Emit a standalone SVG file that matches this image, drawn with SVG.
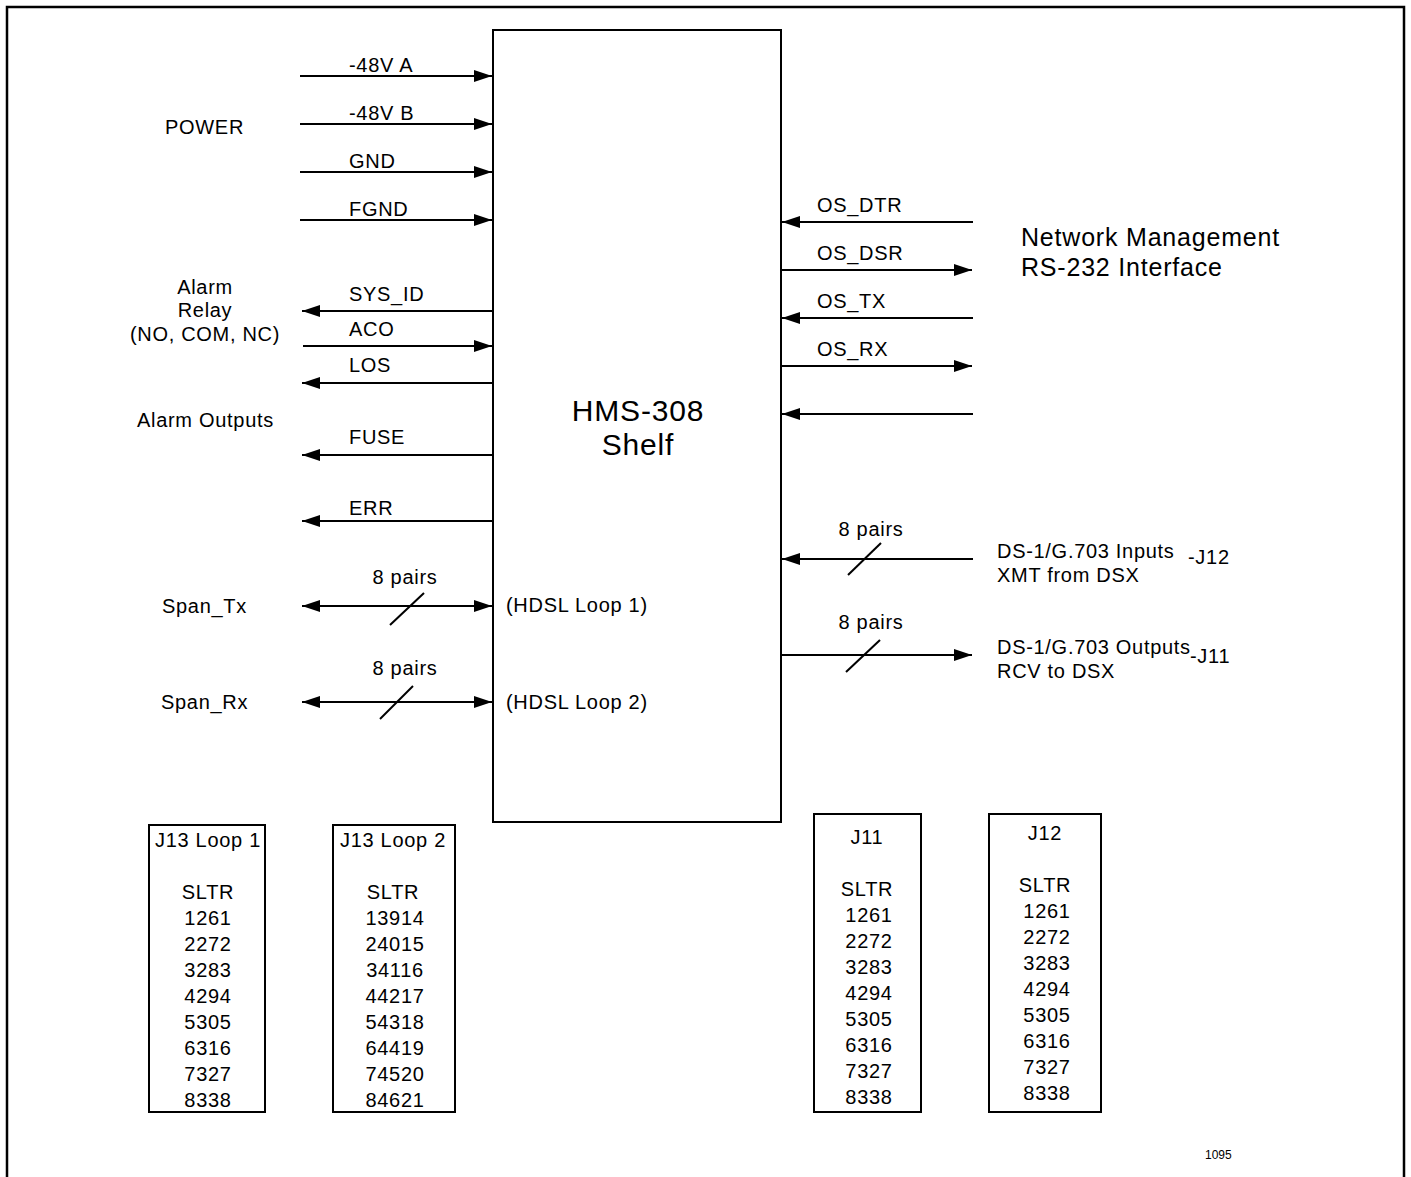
<svg xmlns="http://www.w3.org/2000/svg" width="1411" height="1177" viewBox="0 0 1411 1177">
<style>
text{font-family:"Liberation Sans",Arial,sans-serif;fill:#000}
.l{font-size:20px;letter-spacing:0.7px}
.t{font-size:20px;letter-spacing:0.7px;text-anchor:middle}
.c{stroke:#000;stroke-width:2;fill:none}
.b{stroke:#000;stroke-width:2;fill:#fff}
</style>
<defs>
<marker id="ah" viewBox="0 0 18 12" refX="18" refY="6" markerWidth="18" markerHeight="12" markerUnits="userSpaceOnUse" orient="auto-start-reverse">
<path d="M0,0 L18,6 L0,12 Z" fill="#000"/>
</marker>
</defs>
<rect width="1411" height="1177" fill="#fff"/>
<path d="M7,1177 V7 H1404 V1177" fill="none" stroke="#000" stroke-width="2.5"/>

<g id="shelf">
<rect x="493" y="30" width="288" height="792" class="b"/>
<text x="638" y="421" style="font-size:30px;letter-spacing:0.8px;text-anchor:middle">HMS-308</text>
<text x="638" y="455" style="font-size:30px;letter-spacing:0.8px;text-anchor:middle">Shelf</text>
</g>

<g id="connectors">
<line x1="300" y1="76" x2="492" y2="76" class="c" marker-end="url(#ah)"/>
<line x1="300" y1="124" x2="492" y2="124" class="c" marker-end="url(#ah)"/>
<line x1="300" y1="172" x2="492" y2="172" class="c" marker-end="url(#ah)"/>
<line x1="300" y1="220" x2="492" y2="220" class="c" marker-end="url(#ah)"/>
<line x1="493" y1="311" x2="302" y2="311" class="c" marker-end="url(#ah)"/>
<line x1="303" y1="346" x2="492" y2="346" class="c" marker-end="url(#ah)"/>
<line x1="493" y1="383" x2="302" y2="383" class="c" marker-end="url(#ah)"/>
<line x1="493" y1="455" x2="302" y2="455" class="c" marker-end="url(#ah)"/>
<line x1="493" y1="521" x2="302" y2="521" class="c" marker-end="url(#ah)"/>
<line x1="302" y1="606" x2="492" y2="606" class="c" marker-start="url(#ah)" marker-end="url(#ah)"/>
<line x1="390" y1="625" x2="424" y2="593" class="c"/>
<line x1="302" y1="702" x2="492" y2="702" class="c" marker-start="url(#ah)" marker-end="url(#ah)"/>
<line x1="380" y1="719" x2="413" y2="686" class="c"/>
<line x1="973" y1="222" x2="782" y2="222" class="c" marker-end="url(#ah)"/>
<line x1="782" y1="270" x2="972" y2="270" class="c" marker-end="url(#ah)"/>
<line x1="973" y1="318" x2="782" y2="318" class="c" marker-end="url(#ah)"/>
<line x1="782" y1="366" x2="972" y2="366" class="c" marker-end="url(#ah)"/>
<line x1="973" y1="414" x2="782" y2="414" class="c" marker-end="url(#ah)"/>
<line x1="973" y1="559" x2="782" y2="559" class="c" marker-end="url(#ah)"/>
<line x1="848" y1="575" x2="881" y2="543" class="c"/>
<line x1="782" y1="655" x2="972" y2="655" class="c" marker-end="url(#ah)"/>
<line x1="846" y1="672" x2="880" y2="640" class="c"/>
</g>

<g id="labels">
<text x="349" y="72" class="l">-48V A</text>
<text x="349" y="120" class="l">-48V B</text>
<text x="349" y="168" class="l">GND</text>
<text x="349" y="216" class="l">FGND</text>
<text x="349" y="301" class="l">SYS_ID</text>
<text x="349" y="336" class="l">ACO</text>
<text x="349" y="372" class="l">LOS</text>
<text x="349" y="444" class="l">FUSE</text>
<text x="349" y="515" class="l">ERR</text>
<text x="405" y="584" class="t">8 pairs</text>
<text x="405" y="675" class="t">8 pairs</text>
<text x="506" y="612" class="l">(HDSL Loop 1)</text>
<text x="506" y="709" class="l">(HDSL Loop 2)</text>
<text x="817" y="212" class="l">OS_DTR</text>
<text x="817" y="260" class="l">OS_DSR</text>
<text x="817" y="308" class="l">OS_TX</text>
<text x="817" y="356" class="l">OS_RX</text>
<text x="871" y="536" class="t">8 pairs</text>
<text x="871" y="629" class="t">8 pairs</text>
</g>

<g id="power">
<text x="165" y="134" class="l">POWER</text>
</g>
<g id="alarm-relay">
<text x="205" y="294" class="t">Alarm</text>
<text x="205" y="317" class="t">Relay</text>
<text x="205" y="341" class="t">(NO, COM, NC)</text>
</g>
<g id="alarm-outputs">
<text x="137" y="427" class="l">Alarm Outputs</text>
</g>
<g id="span-tx"><text x="162" y="613" class="l">Span_Tx</text></g>
<g id="span-rx"><text x="161" y="709" class="l">Span_Rx</text></g>

<g id="netmgmt">
<text x="1021" y="246" style="font-size:25px;letter-spacing:0.8px">Network Management</text>
<text x="1021" y="276" style="font-size:25px;letter-spacing:0.8px">RS-232 Interface</text>
</g>
<g id="ds1-in">
<text x="997" y="558" class="l">DS-1/G.703 Inputs</text>
<text x="997" y="582" class="l">XMT from DSX</text>
<text x="1188" y="564" class="l">-J12</text>
</g>
<g id="ds1-out">
<text x="997" y="654" class="l">DS-1/G.703 Outputs</text>
<text x="997" y="678" class="l">RCV to DSX</text>
<text x="1190" y="663" class="l">-J11</text>
</g>

<g id="j13-loop1">
<rect x="149" y="825" width="116" height="287" class="b"/>
<text x="208" y="847" class="t">J13 Loop 1</text>
<text x="208" y="899" class="t">SLTR</text>
<text x="208" y="925" class="t">1261</text>
<text x="208" y="951" class="t">2272</text>
<text x="208" y="977" class="t">3283</text>
<text x="208" y="1003" class="t">4294</text>
<text x="208" y="1029" class="t">5305</text>
<text x="208" y="1055" class="t">6316</text>
<text x="208" y="1081" class="t">7327</text>
<text x="208" y="1107" class="t">8338</text>
</g>
<g id="j13-loop2">
<rect x="333" y="825" width="122" height="287" class="b"/>
<text x="393" y="847" class="t">J13 Loop 2</text>
<text x="393" y="899" class="t">SLTR</text>
<text x="395" y="925" class="t">13914</text>
<text x="395" y="951" class="t">24015</text>
<text x="395" y="977" class="t">34116</text>
<text x="395" y="1003" class="t">44217</text>
<text x="395" y="1029" class="t">54318</text>
<text x="395" y="1055" class="t">64419</text>
<text x="395" y="1081" class="t">74520</text>
<text x="395" y="1107" class="t">84621</text>
</g>
<g id="j11">
<rect x="814" y="814" width="107" height="298" class="b"/>
<text x="867" y="844" class="t">J11</text>
<text x="867" y="896" class="t">SLTR</text>
<text x="869" y="922" class="t">1261</text>
<text x="869" y="948" class="t">2272</text>
<text x="869" y="974" class="t">3283</text>
<text x="869" y="1000" class="t">4294</text>
<text x="869" y="1026" class="t">5305</text>
<text x="869" y="1052" class="t">6316</text>
<text x="869" y="1078" class="t">7327</text>
<text x="869" y="1104" class="t">8338</text>
</g>
<g id="j12">
<rect x="989" y="814" width="112" height="298" class="b"/>
<text x="1045" y="840" class="t">J12</text>
<text x="1045" y="892" class="t">SLTR</text>
<text x="1047" y="918" class="t">1261</text>
<text x="1047" y="944" class="t">2272</text>
<text x="1047" y="970" class="t">3283</text>
<text x="1047" y="996" class="t">4294</text>
<text x="1047" y="1022" class="t">5305</text>
<text x="1047" y="1048" class="t">6316</text>
<text x="1047" y="1074" class="t">7327</text>
<text x="1047" y="1100" class="t">8338</text>
</g>
<text x="1205" y="1159" style="font-size:12px">1095</text>
</svg>
